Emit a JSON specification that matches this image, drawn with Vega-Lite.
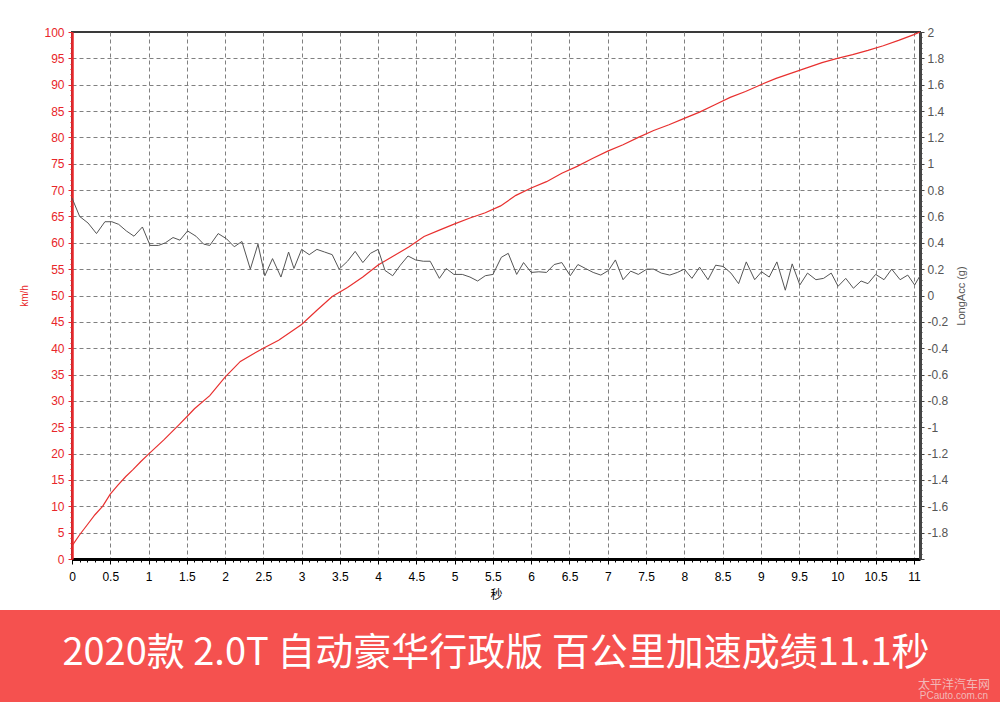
{
  "$schema": "https://vega.github.io/schema/vega-lite/v6.json",
  "background": "white",
  "padding": {"left": 0, "right": 0, "top": 25, "bottom": 0},
  "config": {"view": {"stroke": null}, "axis": {"labelFont": "Liberation Sans", "titleFont": "Liberation Sans"}},
  "datasets": {
    "speed": [
      {"t": 0, "kmh": 2.5}, {"t": 0.1, "kmh": 4.6}, {"t": 0.2, "kmh": 6.5}, {"t": 0.3, "kmh": 8.4}, {"t": 0.4, "kmh": 10.0},
      {"t": 0.5, "kmh": 12.3}, {"t": 0.6, "kmh": 14.0}, {"t": 0.7, "kmh": 15.6}, {"t": 0.8, "kmh": 17.0}, {"t": 0.9, "kmh": 18.5},
      {"t": 1.0, "kmh": 19.9}, {"t": 1.2, "kmh": 22.6}, {"t": 1.4, "kmh": 25.5}, {"t": 1.5, "kmh": 27.0}, {"t": 1.6, "kmh": 28.5},
      {"t": 1.8, "kmh": 31.0}, {"t": 2.0, "kmh": 34.5}, {"t": 2.2, "kmh": 37.5}, {"t": 2.4, "kmh": 39.2}, {"t": 2.5, "kmh": 40.0},
      {"t": 2.7, "kmh": 41.5}, {"t": 2.9, "kmh": 43.5}, {"t": 3.0, "kmh": 44.5}, {"t": 3.2, "kmh": 47.2}, {"t": 3.4, "kmh": 49.8},
      {"t": 3.6, "kmh": 51.5}, {"t": 3.8, "kmh": 53.5}, {"t": 4.0, "kmh": 55.8}, {"t": 4.2, "kmh": 57.5}, {"t": 4.4, "kmh": 59.2},
      {"t": 4.6, "kmh": 61.2}, {"t": 4.8, "kmh": 62.4}, {"t": 5.0, "kmh": 63.6}, {"t": 5.2, "kmh": 64.7}, {"t": 5.4, "kmh": 65.7},
      {"t": 5.6, "kmh": 67.0}, {"t": 5.8, "kmh": 69.0}, {"t": 6.0, "kmh": 70.4}, {"t": 6.2, "kmh": 71.6}, {"t": 6.4, "kmh": 73.2},
      {"t": 6.6, "kmh": 74.5}, {"t": 6.8, "kmh": 76.0}, {"t": 7.0, "kmh": 77.4}, {"t": 7.2, "kmh": 78.6}, {"t": 7.4, "kmh": 80.0},
      {"t": 7.6, "kmh": 81.3}, {"t": 7.8, "kmh": 82.4}, {"t": 8.0, "kmh": 83.6}, {"t": 8.2, "kmh": 84.8}, {"t": 8.4, "kmh": 86.2},
      {"t": 8.6, "kmh": 87.6}, {"t": 8.8, "kmh": 88.7}, {"t": 9.0, "kmh": 90.0}, {"t": 9.2, "kmh": 91.2}, {"t": 9.4, "kmh": 92.2},
      {"t": 9.6, "kmh": 93.2}, {"t": 9.8, "kmh": 94.2}, {"t": 10.0, "kmh": 95.0}, {"t": 10.2, "kmh": 95.7}, {"t": 10.4, "kmh": 96.5},
      {"t": 10.6, "kmh": 97.4}, {"t": 10.8, "kmh": 98.4}, {"t": 11.0, "kmh": 99.5}, {"t": 11.08, "kmh": 100}
    ],
    "acc": [
      {"t": 0, "g": 0.74}, {"t": 0.1, "g": 0.6}, {"t": 0.21, "g": 0.55}, {"t": 0.32, "g": 0.47}, {"t": 0.43, "g": 0.56},
      {"t": 0.52, "g": 0.56}, {"t": 0.61, "g": 0.54}, {"t": 0.71, "g": 0.49}, {"t": 0.81, "g": 0.45}, {"t": 0.92, "g": 0.52},
      {"t": 1.02, "g": 0.38}, {"t": 1.13, "g": 0.38}, {"t": 1.22, "g": 0.4}, {"t": 1.32, "g": 0.44}, {"t": 1.41, "g": 0.42},
      {"t": 1.51, "g": 0.49}, {"t": 1.62, "g": 0.45}, {"t": 1.72, "g": 0.39}, {"t": 1.8, "g": 0.38}, {"t": 1.91, "g": 0.47},
      {"t": 2.02, "g": 0.43}, {"t": 2.12, "g": 0.37}, {"t": 2.22, "g": 0.41}, {"t": 2.33, "g": 0.2}, {"t": 2.43, "g": 0.39},
      {"t": 2.52, "g": 0.15}, {"t": 2.62, "g": 0.28}, {"t": 2.73, "g": 0.14}, {"t": 2.83, "g": 0.33}, {"t": 2.9, "g": 0.205},
      {"t": 3.0, "g": 0.35}, {"t": 3.1, "g": 0.31}, {"t": 3.2, "g": 0.35}, {"t": 3.3, "g": 0.33}, {"t": 3.4, "g": 0.31},
      {"t": 3.49, "g": 0.2}, {"t": 3.6, "g": 0.26}, {"t": 3.7, "g": 0.335}, {"t": 3.8, "g": 0.25}, {"t": 3.9, "g": 0.32},
      {"t": 4.0, "g": 0.35}, {"t": 4.09, "g": 0.19}, {"t": 4.19, "g": 0.15}, {"t": 4.29, "g": 0.23}, {"t": 4.39, "g": 0.3},
      {"t": 4.49, "g": 0.27}, {"t": 4.59, "g": 0.26}, {"t": 4.68, "g": 0.26}, {"t": 4.8, "g": 0.13}, {"t": 4.89, "g": 0.205},
      {"t": 4.99, "g": 0.16}, {"t": 5.1, "g": 0.16}, {"t": 5.2, "g": 0.14}, {"t": 5.3, "g": 0.11}, {"t": 5.4, "g": 0.15},
      {"t": 5.5, "g": 0.16}, {"t": 5.61, "g": 0.29}, {"t": 5.7, "g": 0.32}, {"t": 5.81, "g": 0.16}, {"t": 5.9, "g": 0.25},
      {"t": 6.0, "g": 0.175}, {"t": 6.1, "g": 0.18}, {"t": 6.2, "g": 0.175}, {"t": 6.3, "g": 0.235}, {"t": 6.4, "g": 0.25},
      {"t": 6.51, "g": 0.15}, {"t": 6.61, "g": 0.235}, {"t": 6.71, "g": 0.205}, {"t": 6.81, "g": 0.175}, {"t": 6.91, "g": 0.155},
      {"t": 7.01, "g": 0.19}, {"t": 7.1, "g": 0.27}, {"t": 7.2, "g": 0.12}, {"t": 7.3, "g": 0.185}, {"t": 7.4, "g": 0.16},
      {"t": 7.51, "g": 0.2}, {"t": 7.6, "g": 0.2}, {"t": 7.7, "g": 0.17}, {"t": 7.81, "g": 0.155}, {"t": 7.91, "g": 0.175},
      {"t": 8.0, "g": 0.2}, {"t": 8.1, "g": 0.13}, {"t": 8.2, "g": 0.215}, {"t": 8.31, "g": 0.12}, {"t": 8.41, "g": 0.23},
      {"t": 8.51, "g": 0.22}, {"t": 8.61, "g": 0.17}, {"t": 8.71, "g": 0.09}, {"t": 8.81, "g": 0.255}, {"t": 8.92, "g": 0.12},
      {"t": 9.01, "g": 0.18}, {"t": 9.11, "g": 0.14}, {"t": 9.21, "g": 0.255}, {"t": 9.32, "g": 0.04}, {"t": 9.41, "g": 0.24},
      {"t": 9.51, "g": 0.08}, {"t": 9.61, "g": 0.17}, {"t": 9.72, "g": 0.12}, {"t": 9.82, "g": 0.13}, {"t": 9.92, "g": 0.17},
      {"t": 10.01, "g": 0.07}, {"t": 10.11, "g": 0.13}, {"t": 10.21, "g": 0.055}, {"t": 10.31, "g": 0.11}, {"t": 10.4, "g": 0.09},
      {"t": 10.5, "g": 0.16}, {"t": 10.61, "g": 0.12}, {"t": 10.71, "g": 0.2}, {"t": 10.82, "g": 0.12}, {"t": 10.92, "g": 0.155},
      {"t": 11.01, "g": 0.08}, {"t": 11.08, "g": 0.15}
    ]
  },
  "spacing": 9,
  "vconcat": [
    {
      "bounds": "flush",
      "spacing": 0,
      "hconcat": [
        {
          "width": 72,
          "height": 527,
          "data": {"values": [{"s": ""}]},
          "mark": {"type": "text"},
          "encoding": {"text": {"field": "s"}}
        },
        {
          "width": 848,
          "height": 527,
          "view": {"stroke": "#3a3a3a", "strokeWidth": 2},
          "resolve": {"scale": {"y": "independent"}},
          "encoding": {
            "x": {
              "field": "t", "type": "quantitative",
              "scale": {"domain": [0, 11.08], "nice": false, "zero": false},
              "axis": {
                "orient": "bottom",
                "values": [0,0.1,0.2,0.3,0.4,0.5,0.6,0.7,0.8,0.9,1,1.1,1.2,1.3,1.4,1.5,1.6,1.7,1.8,1.9,2,2.1,2.2,2.3,2.4,2.5,2.6,2.7,2.8,2.9,3,3.1,3.2,3.3,3.4,3.5,3.6,3.7,3.8,3.9,4,4.1,4.2,4.3,4.4,4.5,4.6,4.7,4.8,4.9,5,5.1,5.2,5.3,5.4,5.5,5.6,5.7,5.8,5.9,6,6.1,6.2,6.3,6.4,6.5,6.6,6.7,6.8,6.9,7,7.1,7.2,7.3,7.4,7.5,7.6,7.7,7.8,7.9,8,8.1,8.2,8.3,8.4,8.5,8.6,8.7,8.8,8.9,9,9.1,9.2,9.3,9.4,9.5,9.6,9.7,9.8,9.9,10,10.1,10.2,10.3,10.4,10.5,10.6,10.7,10.8,10.9,11],
                "labelExpr": "round(datum.value*10) % 5 === 0 ? '' + datum.value : ''",
                "labelOverlap": false,
                "labelFlush": false,
                "labelBound": false,
                "tickSize": {"condition": {"test": "round(datum.value*10) % 5 === 0", "value": 5}, "value": 3},
                "tickColor": "#000",
                "domainColor": "#000",
                "domainWidth": 3,
                "labelColor": "#000",
                "labelFontSize": 12,
                "labelPadding": 7,
                "grid": true,
                "gridColor": "#808080",
                "gridDash": [4, 3],
                "gridOpacity": {"condition": {"test": "round(datum.value*10) % 5 === 0 && datum.value > 0", "value": 1}, "value": 0},
                "title": "秒",
                "titleFont": "Noto Sans CJK SC",
                "titleFontSize": 12,
                "titleFontWeight": "normal",
                "titleColor": "#000",
                "titlePadding": 7
              }
            }
          },
          "layer": [
            {
              "data": {"name": "speed"},
              "mark": {"type": "line", "color": "#e8302f", "strokeWidth": 1.2},
              "encoding": {
                "y": {
                  "field": "kmh", "type": "quantitative",
                  "scale": {"domain": [0, 100], "nice": false},
                  "axis": {
                    "orient": "left",
                    "values": [0,1,2,3,4,5,6,7,8,9,10,11,12,13,14,15,16,17,18,19,20,21,22,23,24,25,26,27,28,29,30,31,32,33,34,35,36,37,38,39,40,41,42,43,44,45,46,47,48,49,50,51,52,53,54,55,56,57,58,59,60,61,62,63,64,65,66,67,68,69,70,71,72,73,74,75,76,77,78,79,80,81,82,83,84,85,86,87,88,89,90,91,92,93,94,95,96,97,98,99,100],
                    "labelExpr": "datum.value % 5 === 0 ? '' + datum.value : ''",
                    "labelOverlap": false,
                    "labelFlush": false,
                    "tickSize": {"condition": {"test": "datum.value % 5 === 0", "value": 4}, "value": 2},
                    "tickColor": "#e8262a",
                    "domainColor": "#e8262a",
                    "domainWidth": 2.5,
                    "labelColor": "#e8262a",
                    "labelFontSize": 12,
                    "labelPadding": 4,
                    "grid": true,
                    "gridColor": "#808080",
                    "gridDash": [4, 3],
                    "gridOpacity": {"condition": {"test": "datum.value % 5 === 0 && datum.value > 0 && datum.value < 100", "value": 1}, "value": 0},
                    "title": "km/h",
                    "titleColor": "#e8262a",
                    "titleFontSize": 10,
                    "titleFontWeight": "normal",
                    "titlePadding": 14
                  }
                }
              }
            },
            {
              "data": {"name": "acc"},
              "mark": {"type": "line", "color": "#555555", "strokeWidth": 1},
              "encoding": {
                "y": {
                  "field": "g", "type": "quantitative",
                  "scale": {"domain": [-2, 2], "nice": false, "zero": false},
                  "axis": {
                    "orient": "right",
                    "values": [-2,-1.96,-1.92,-1.88,-1.84,-1.8,-1.76,-1.72,-1.68,-1.64,-1.6,-1.56,-1.52,-1.48,-1.44,-1.4,-1.36,-1.32,-1.28,-1.24,-1.2,-1.16,-1.12,-1.08,-1.04,-1,-0.96,-0.92,-0.88,-0.84,-0.8,-0.76,-0.72,-0.68,-0.64,-0.6,-0.56,-0.52,-0.48,-0.44,-0.4,-0.36,-0.32,-0.28,-0.24,-0.2,-0.16,-0.12,-0.08,-0.04,0,0.04,0.08,0.12,0.16,0.2,0.24,0.28,0.32,0.36,0.4,0.44,0.48,0.52,0.56,0.6,0.64,0.68,0.72,0.76,0.8,0.84,0.88,0.92,0.96,1,1.04,1.08,1.12,1.16,1.2,1.24,1.28,1.32,1.36,1.4,1.44,1.48,1.52,1.56,1.6,1.64,1.68,1.72,1.76,1.8,1.84,1.88,1.92,1.96,2],
                    "labelExpr": "abs(round(datum.value*100)) % 20 === 0 && datum.value > -1.99 ? '' + datum.value : ''",
                    "labelOverlap": false,
                    "labelFlush": false,
                    "tickSize": {"condition": {"test": "abs(round(datum.value*100)) % 20 === 0", "value": 4}, "value": 2},
                    "tickColor": "#444444",
                    "domainColor": "#444444",
                    "domainWidth": 3,
                    "labelColor": "#555555",
                    "labelFontSize": 12,
                    "labelPadding": 3,
                    "grid": false,
                    "title": "LongAcc (g)",
                    "titleColor": "#555555",
                    "titleFontSize": 11,
                    "titleFontWeight": "normal",
                    "titleAngle": 270,
                    "titleBaseline": "top",
                    "titlePadding": 8
                  }
                }
              }
            }
          ]
        }
      ]
    },
    {
      "width": 1000,
      "height": 92,
      "view": {"fill": "#F5514F", "stroke": null},
      "layer": [
        {
          "data": {"values": [{"label": "2020款 2.0T 自动豪华行政版 百公里加速成绩11.1秒"}]},
          "mark": {"type": "text", "color": "#ffffff", "font": "Noto Sans CJK SC", "fontSize": 38, "align": "center", "baseline": "middle", "dx": -4, "dy": -2},
          "encoding": {"text": {"field": "label"}}
        },
        {
          "data": {"values": [{"label": "太平洋汽车网"}]},
          "mark": {"type": "text", "color": "#f2b8b8", "font": "Noto Sans CJK SC", "fontSize": 12, "align": "center", "baseline": "middle", "dx": 454, "dy": 29},
          "encoding": {"text": {"field": "label"}}
        },
        {
          "data": {"values": [{"label": "PCauto.com.cn"}]},
          "mark": {"type": "text", "color": "#f2b8b8", "font": "Liberation Sans", "fontSize": 10, "align": "center", "baseline": "middle", "dx": 454, "dy": 40},
          "encoding": {"text": {"field": "label"}}
        }
      ]
    }
  ]
}
